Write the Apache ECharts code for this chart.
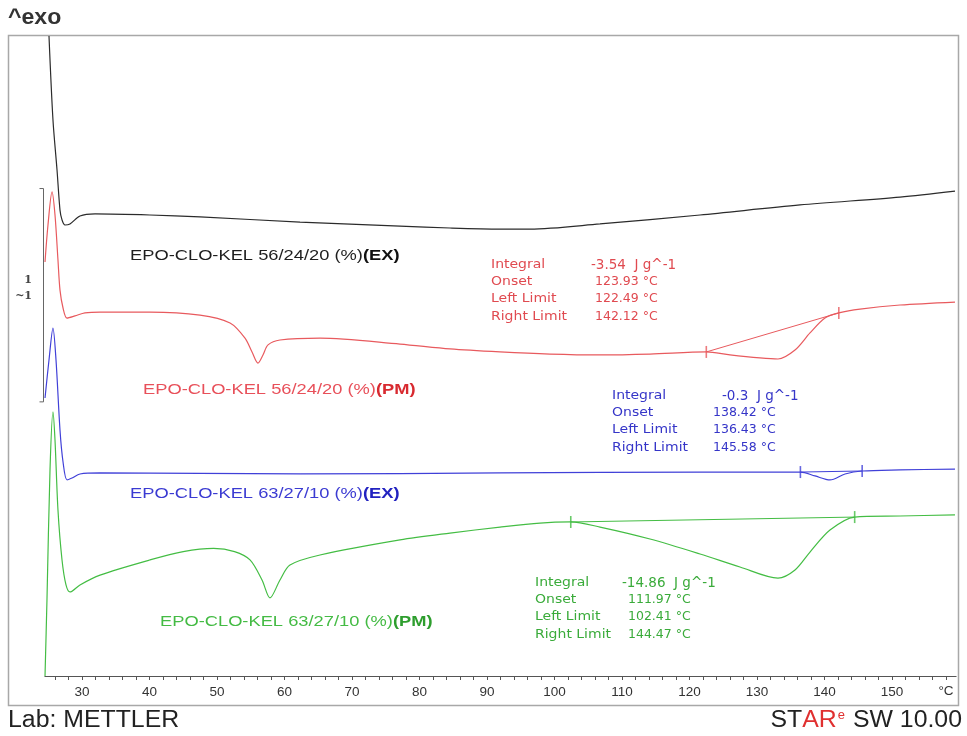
<!DOCTYPE html>
<html>
<head>
<meta charset="utf-8">
<script src="https://cdn.jsdelivr.net/npm/echarts@6/dist/echarts.min.js"></script>
<style>
  html, body { margin: 0; padding: 0; background: #fff; }
  #chart { width: 967px; height: 736px; }
</style>
</head>
<body>
<div id="chart"></div>
<script>
// Temperature axis, °C
const tempMin = 24.5;
const tempMax = 159.5;
const tempLabels = [30, 40, 50, 60, 70, 80, 90, 100, 110, 120, 130, 140, 150];
const tempTicks = [26, 28, 30, 32, 34, 36, 38, 40, 42, 44, 46, 48, 50, 52, 54, 56, 58, 60, 62, 64, 66, 68, 70,
  72, 74, 76, 78, 80, 82, 84, 86, 88, 90, 92, 94, 96, 98, 100, 102, 104, 106, 108, 110, 112, 114, 116, 118,
  120, 122, 124, 126, 128, 130, 132, 134, 136, 138, 140, 142, 144, 146, 148, 150, 152, 154, 156, 158];

// Heat flow curves, [temperature °C, heat flow W/g incl. vertical offset]
const ex562420 = [[25.11, 3.0], [25.70, 2.606], [26.30, 2.372], [26.74, 2.184], [27.04, 2.138], [27.48, 2.114],
  [28.22, 2.119], [29.70, 2.156], [31.93, 2.166], [40.07, 2.161], [47.48, 2.152], [62.30, 2.128], [77.11, 2.109],
  [84.52, 2.100], [91.93, 2.095], [96.37, 2.095], [106.74, 2.119], [121.56, 2.161], [136.37, 2.208],
  [151.19, 2.245], [159.33, 2.273]];

const pm562420 = [[24.52, 1.941], [24.96, 2.114], [25.56, 2.269], [26.00, 2.161], [26.44, 1.950], [26.74, 1.809],
  [27.19, 1.725], [27.78, 1.678], [28.96, 1.688], [30.44, 1.702], [32.67, 1.706], [40.07, 1.706], [47.48, 1.692],
  [51.93, 1.655], [54.15, 1.584], [55.19, 1.519], [56.07, 1.467], [56.81, 1.505], [57.56, 1.552], [59.33, 1.575],
  [65.26, 1.584], [77.11, 1.556], [84.52, 1.533], [91.93, 1.519], [99.33, 1.509], [106.74, 1.505], [114.15, 1.509],
  [122.49, 1.519], [126.0, 1.505], [130.44, 1.491], [133.11, 1.486], [135.63, 1.528], [137.85, 1.608],
  [140.07, 1.678], [142.12, 1.702], [145.26, 1.720], [151.19, 1.739], [159.33, 1.753]];

const ex632710 = [[24.52, 1.303], [25.11, 1.481], [25.70, 1.631], [26.15, 1.481], [26.74, 1.153], [27.19, 1.003],
  [27.78, 0.919], [28.52, 0.928], [29.70, 0.947], [32.67, 0.952], [62.30, 0.947], [91.93, 0.952], [121.56, 0.956],
  [136.43, 0.956], [138.59, 0.938], [140.81, 0.919], [143.04, 0.947], [145.58, 0.961], [151.19, 0.966],
  [159.33, 0.970]];

const pm632710 = [[24.52, 0.0], [24.81, 0.356], [25.26, 0.966], [25.70, 1.238], [26.00, 1.106], [26.44, 0.778],
  [27.04, 0.544], [27.63, 0.427], [28.22, 0.394], [29.70, 0.427], [32.67, 0.473], [40.07, 0.544], [45.0, 0.583],
  [49.5, 0.598], [52.6, 0.583], [54.89, 0.544], [56.67, 0.450], [57.85, 0.366], [59.33, 0.450], [60.81, 0.520],
  [65.26, 0.567], [77.11, 0.638], [84.52, 0.670], [91.93, 0.698], [97.85, 0.717], [102.41, 0.722], [106.74, 0.698],
  [114.15, 0.642], [121.56, 0.572], [127.48, 0.511], [133.11, 0.459], [135.63, 0.497], [137.85, 0.581],
  [140.81, 0.684], [144.47, 0.745], [151.19, 0.750], [159.33, 0.755]];

// Integration limits (left, right) on each evaluated peak
const pm562420Limits = [[122.49, 1.519], [142.12, 1.702]];
const ex632710Limits = [[136.43, 0.956], [145.58, 0.961]];
const pm632710Limits = [[102.41, 0.722], [144.47, 0.745]];

// Ordinate scale bar: 1 W/g
const scaleBar = [1.285, 2.285];

// Evaluation results
const resultRows = ['Integral', 'Onset', 'Left Limit', 'Right Limit'];
const pm562420Results = ['-3.54  J g^-1', '123.93 °C', '122.49 °C', '142.12 °C'];
const ex632710Results = ['-0.3  J g^-1', '138.42 °C', '136.43 °C', '145.58 °C'];
const pm632710Results = ['-14.86  J g^-1', '111.97 °C', '102.41 °C', '144.47 °C'];

const colBlack = '#2b2b2b';
const colRed = '#e85a5e';
const colBlue = '#4040d8';
const colGreen = '#44bd44';

function curve(name, data, color) {
  return {
    name: name, type: 'line', data: data, showSymbol: false, smooth: 0.3,
    lineStyle: { color: color, width: 1.2 }, clip: true, silent: true, z: 3
  };
}
function baseline(data, color) {
  return {
    type: 'line', data: data, showSymbol: false, smooth: false,
    lineStyle: { color: color, width: 1 }, silent: true, z: 2
  };
}
function limitMarks(data, color) {
  return {
    type: 'scatter', data: data, symbol: 'rect', symbolSize: [1.6, 12],
    itemStyle: { color: color }, silent: true, z: 4
  };
}

const chart = echarts.init(document.getElementById('chart'));

chart.setOption({
  animation: false,
  backgroundColor: '#ffffff',
  grid: { left: 44.875, right: 10.875, top: 36, bottom: 60, containLabel: false },
  xAxis: {
    type: 'value', min: tempMin, max: tempMax,
    axisLine: { show: true, onZero: false, lineStyle: { color: '#555', width: 1 } },
    axisTick: { show: true, customValues: tempTicks, length: 4, lineStyle: { color: '#555' } },
    axisLabel: {
      customValues: tempLabels, color: '#333', fontSize: 13.5,
      fontFamily: 'Liberation Sans Narrow, Liberation Sans, sans-serif', margin: 9
    },
    splitLine: { show: false }
  },
  yAxis: {
    type: 'value', min: 0, max: 3.0, show: false
  },
  series: [
    curve('EPO-CLO-KEL 56/24/20 (%)(EX)', ex562420, colBlack),
    curve('EPO-CLO-KEL 56/24/20 (%)(PM)', pm562420, colRed),
    curve('EPO-CLO-KEL 63/27/10 (%)(EX)', ex632710, colBlue),
    curve('EPO-CLO-KEL 63/27/10 (%)(PM)', pm632710, colGreen),
    baseline(pm562420Limits, colRed),
    baseline(ex632710Limits, colBlue),
    baseline(pm632710Limits, colGreen),
    limitMarks(pm562420Limits, colRed),
    limitMarks(ex632710Limits, colBlue),
    limitMarks(pm632710Limits, colGreen)
  ]
});

// Text and frame decorations
const labelFont = 'Liberation Sans, Arial, sans-serif';
const resultFont = 'DejaVu Sans, Verdana, sans-serif';

function curveLabel(x, y, name, tag, color, tagColor) {
  return {
    type: 'text', x: x, y: y, scaleX: 1.22, z: 10,
    style: {
      text: '{a|' + name + '}{b|' + tag + '}',
      verticalAlign: 'middle', align: 'left',
      rich: {
        a: { fontFamily: labelFont, fontSize: 15, fill: color },
        b: { fontFamily: labelFont, fontSize: 15, fontWeight: 'bold', fill: tagColor }
      }
    }
  };
}

function resultBlock(x, xv, xv0, y0, values, color) {
  const els = [];
  const dy = [0, 17, 34, 52];
  resultRows.forEach(function (r, i) {
    els.push({
      type: 'text', x: x, y: y0 + dy[i], z: 10, scaleX: 1.12,
      style: { text: r, fontFamily: resultFont, fontSize: 12.5, fill: color, verticalAlign: 'middle' }
    });
    els.push({
      type: 'text', x: i === 0 ? xv0 : xv, y: y0 + dy[i], z: 10,
      style: {
        text: values[i], fontFamily: resultFont, fontSize: i === 0 ? 13.5 : 12.5,
        fill: color, verticalAlign: 'middle'
      }
    });
  });
  return els;
}

const barTop = chart.convertToPixel({ gridIndex: 0 }, [tempMin, scaleBar[1]])[1];
const barBot = chart.convertToPixel({ gridIndex: 0 }, [tempMin, scaleBar[0]])[1];
const barMid = (barTop + barBot) / 2;

let elements = [
  // outer frame
  { type: 'rect', shape: { x: 8.5, y: 35.5, width: 950, height: 670 }, z: 0,
    style: { fill: null, stroke: '#a8a8a8', lineWidth: 1.5 } },
  { type: 'text', x: 8, y: 18, scaleX: 1.05, style: { text: '^exo', fontFamily: labelFont, fontSize: 22, fontWeight: 'bold', fill: '#333', verticalAlign: 'middle' } },
  // scale bar
  { type: 'polyline', z: 5, shape: { points: [[39.5, barTop], [43.5, barTop], [43.5, barBot], [39.5, barBot]] },
    style: { stroke: '#666', lineWidth: 1, fill: null } },
  { type: 'text', x: 32, y: barMid - 15, style: { text: '1', fontFamily: 'DejaVu Serif, serif', fontSize: 11, fontWeight: 'bold', fill: '#444', align: 'right', verticalAlign: 'middle' } },
  { type: 'text', x: 32, y: barMid + 1, style: { text: '~1', fontFamily: 'DejaVu Serif, serif', fontSize: 11, fontWeight: 'bold', fill: '#444', align: 'right', verticalAlign: 'middle' } },
  // unit of abscissa
  { type: 'text', x: 946, y: 691, style: { text: '°C', fontFamily: 'Liberation Sans Narrow, Liberation Sans, sans-serif', fontSize: 13.5, fill: '#333', align: 'center', verticalAlign: 'middle' } },
  // footer
  { type: 'text', x: 8, y: 721, scaleX: 1.08, style: { text: 'Lab: METTLER', fontFamily: labelFont, fontSize: 23, fill: '#222', verticalAlign: 'middle' } },
  { type: 'text', x: 962, y: 721, scaleX: 1.08, style: {
      text: '{k|ST}{r|AR}{e|e}{k| SW 10.00}', align: 'right', verticalAlign: 'middle',
      rich: {
        k: { fontFamily: labelFont, fontSize: 23, fill: '#222' },
        r: { fontFamily: labelFont, fontSize: 23, fill: '#e03030' },
        e: { fontFamily: labelFont, fontSize: 12, fill: '#e03030', verticalAlign: 'top', padding: [0, 1, 10, 1] }
      } } },
  curveLabel(130, 256, 'EPO-CLO-KEL 56/24/20 (%)', '(EX)', '#1e1e1e', '#111'),
  curveLabel(143, 390, 'EPO-CLO-KEL 56/24/20 (%)', '(PM)', '#e8505a', '#d82a30'),
  curveLabel(130, 494, 'EPO-CLO-KEL 63/27/10 (%)', '(EX)', '#3b3bd2', '#2222c0'),
  curveLabel(160, 622, 'EPO-CLO-KEL 63/27/10 (%)', '(PM)', '#44bb44', '#2e9e2e')
];
elements = elements
  .concat(resultBlock(491, 595, 591, 265, pm562420Results, '#e04a50'))
  .concat(resultBlock(612, 713, 722, 396, ex632710Results, '#3535c8'))
  .concat(resultBlock(535, 628, 622, 583, pm632710Results, '#3aab3a'));

chart.setOption({ graphic: { elements: elements } });
</script>
</body>
</html>
